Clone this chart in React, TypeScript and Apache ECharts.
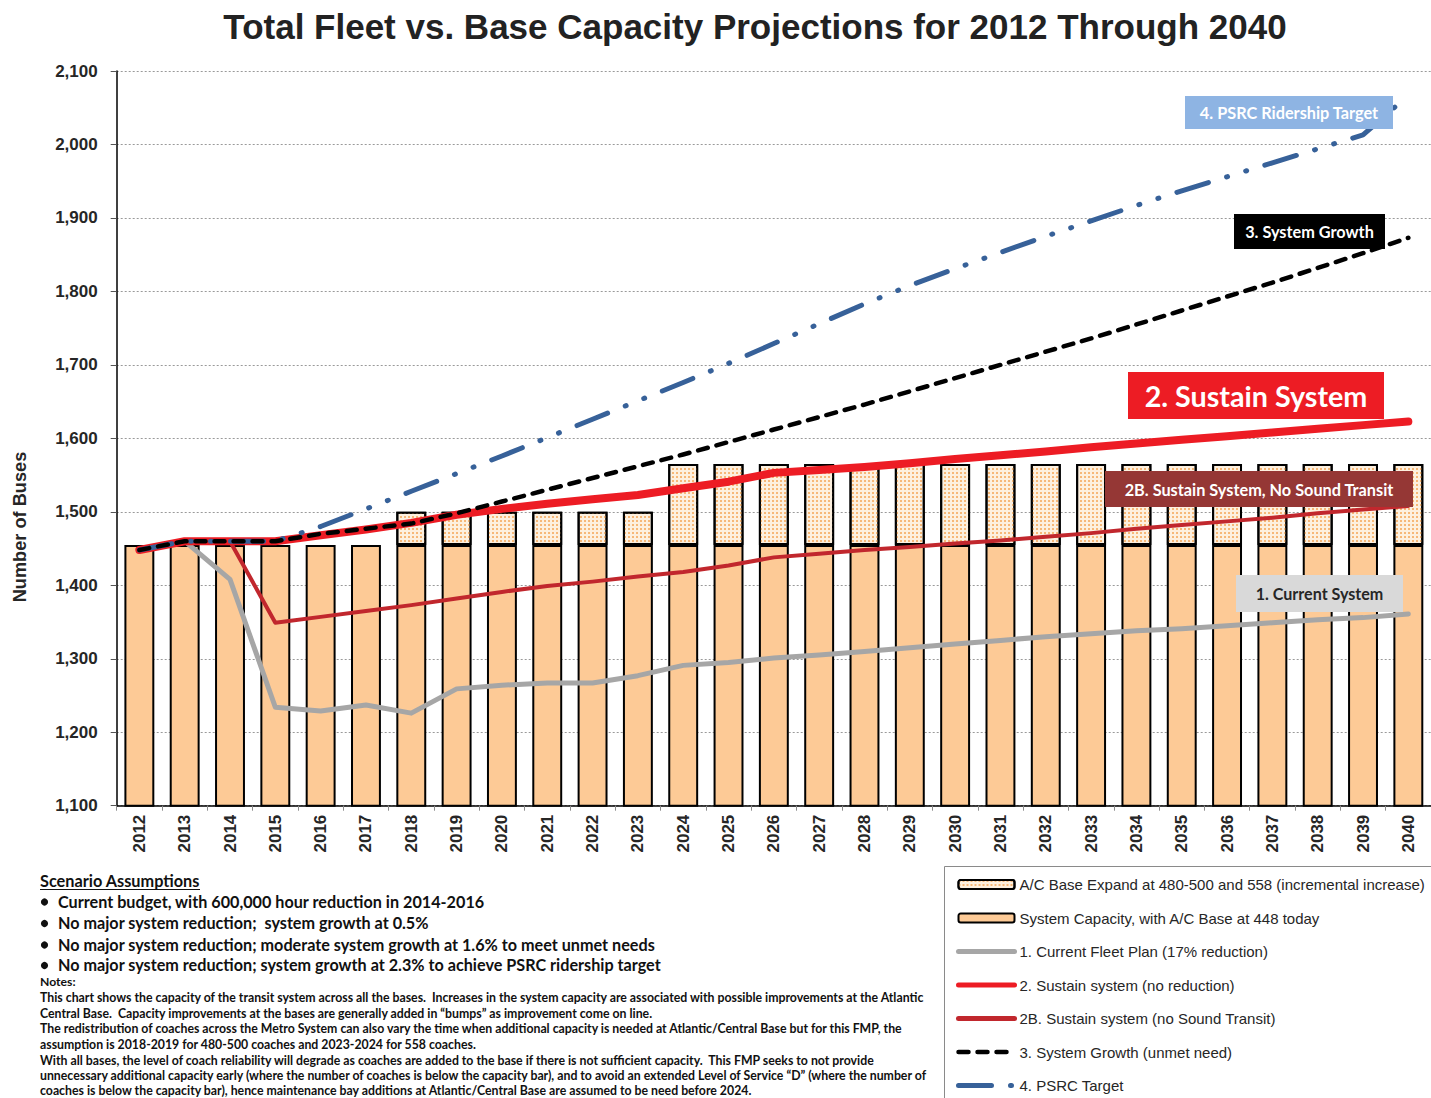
import React, { useEffect, useRef } from 'react';
import * as echarts from 'echarts';

const years = ['2012','2013','2014','2015','2016','2017','2018','2019','2020','2021','2022','2023','2024','2025','2026','2027','2028','2029','2030','2031','2032','2033','2034','2035','2036','2037','2038','2039','2040'];
const baseCapacity = [1455,1455,1455,1455,1455,1455,1455,1455,1455,1455,1455,1455,1455,1455,1455,1455,1455,1455,1455,1455,1455,1455,1455,1455,1455,1455,1455,1455,1455];
const expansion = [null,null,null,null,null,null,45,45,45,45,45,45,110,110,110,110,110,110,110,110,110,110,110,110,110,110,110,110,110];
const currentFleet = [1448,1460,1408,1234,1229,1237,1226,1259,1264,1267,1267,1277,1291,1295,1301,1305,1310,1315,1320,1325,1330,1334,1338,1341,1345,1349,1353,1356,1361];
const sustain = [1448,1460,1460,1460,1468,1476,1485,1496,1504,1511,1517,1523,1532,1541,1553,1557,1561,1566,1572,1577,1582,1588,1593,1598,1603,1608,1613,1618,1623];
const sustainNoST = [1448,1460,1460,1349,1357,1365,1373,1382,1391,1399,1405,1412,1418,1427,1438,1443,1448,1452,1457,1461,1466,1471,1477,1482,1487,1492,1498,1503,1508];
const systemGrowth = [1448,1460,1460,1460,1470,1477,1484,1498,1514,1530,1546,1562,1578,1595,1612,1629,1646,1664,1682,1700,1718,1736,1755,1774,1793,1812,1832,1852,1873];
const psrcTarget = [1448,1460,1460,1460,1480,1504,1528,1552,1576,1601,1626,1651,1676,1702,1729,1756,1783,1808,1831,1853,1875,1896,1917,1937,1956,1975,1994,2013,2067];

const seriesNames = [
  'A/C Base Expand at 480-500 and 558 (incremental increase)',
  'System Capacity, with A/C Base at 448 today',
  '1. Current Fleet Plan (17% reduction)',
  '2. Sustain system (no reduction)',
  '2B. Sustain system (no Sound Transit)',
  '3. System Growth (unmet need)',
  '4. PSRC Target',
];

const titleText = 'Total Fleet vs. Base Capacity Projections for 2012 Through 2040';
const yAxisName = 'Number of Buses';
const scenarioHeading = 'Scenario Assumptions';
const bulletLines = [
  'Current budget, with 600,000 hour reduction in 2014-2016',
  'No major system reduction;  system growth at 0.5%',
  'No major system reduction; moderate system growth at 1.6% to meet unmet needs',
  'No major system reduction; system growth at 2.3% to achieve PSRC ridership target',
];
const noteLines = [
  'This chart shows the capacity of the transit system across all the bases.  Increases in the system capacity are associated with possible improvements at the Atlantic',
  'Central Base.  Capacity improvements at the bases are generally added in \u201cbumps\u201d as improvement come on line.',
  'The redistribution of coaches across the Metro System can also vary the time when additional capacity is needed at Atlantic/Central Base but for this FMP, the',
  'assumption is 2018-2019 for 480-500 coaches and 2023-2024 for 558 coaches.',
  'With all bases, the level of coach reliability will degrade as coaches are added to the base if there is not sufficient capacity.  This FMP seeks to not provide',
  'unnecessary additional capacity early (where the number of coaches is below the capacity bar), and to avoid an extended Level of Service \u201cD\u201d (where the number of',
  'coaches is below the capacity bar), hence maintenance bay additions at Atlantic/Central Base are assumed to be need before 2024.',
];
const callouts = [
  { text: '4. PSRC Ridership Target', x: 1185, y: 96, w: 208, h: 33, fill: '#8EB4E3', color: '#ffffff', size: 16.3 },
  { text: '3. System Growth', x: 1234, y: 214, w: 151, h: 35, fill: '#000000', color: '#ffffff', size: 16.3 },
  { text: '2. Sustain System', x: 1128, y: 372, w: 256, h: 47, fill: '#ED1C24', color: '#ffffff', size: 28.7 },
  { text: '2B. Sustain System, No Sound Transit', x: 1105, y: 471, w: 308, h: 36, fill: '#953735', color: '#ffffff', size: 16.3 },
  { text: '1. Current System', x: 1236, y: 575, w: 167, h: 37, fill: '#D9D9D9', color: '#262626', size: 16.1 },
];

const CAL = 'Lato, "Open Sans", sans-serif';
const ARIAL = '"Liberation Sans", Arial, sans-serif';

export default function App() {
  const ref = useRef<HTMLDivElement>(null);
  useEffect(() => {
    document.body.style.margin = '0';
    const chart = echarts.init(ref.current!, null, { renderer: 'svg' });

    const txt = (text: string, x: number, y: number, font: string, fill: string, align = 'left', extra: any = {}) => ({
      type: 'text', x, y, ...extra,
      style: { text, font, fill, align, verticalAlign: 'middle', textAlign: align, textVerticalAlign: 'middle' },
    });

    const graphics: any[] = [];
    graphics.push(txt(titleText, 755, 26, `bold 35px ${ARIAL}`, '#222222', 'center', { z: 10 }));
    graphics.push(txt(yAxisName, 20, 527, `bold 18.2px ${ARIAL}`, '#262626', 'center', { z: 10, rotation: Math.PI / 2 }));
    callouts.forEach((c) => {
      graphics.push({ type: 'rect', z: 20, shape: { x: c.x, y: c.y, width: c.w, height: c.h }, style: { fill: c.fill } });
      graphics.push(txt(c.text, c.x + c.w / 2, c.y + c.h / 2, `bold ${c.size}px ${CAL}`, c.color, 'center', { z: 21 }));
    });
    graphics.push(txt(scenarioHeading, 40, 880, `bold 16.3px ${CAL}`, '#111111'));
    graphics.push({ type: 'line', shape: { x1: 40, y1: 889.5, x2: 200, y2: 889.5 }, style: { stroke: '#111111', lineWidth: 1.2 } });
    const bulletY = [901, 922.5, 944, 964.5];
    bulletLines.forEach((t, i) => {
      graphics.push({ type: 'circle', shape: { cx: 44.5, cy: bulletY[i] + 1, r: 3.6 }, style: { fill: '#111111' } });
      graphics.push(txt(t, 58, bulletY[i], `bold 16.2px ${CAL}`, '#111111'));
    });
    graphics.push(txt('Notes:', 40, 981.5, `bold 12.2px ${CAL}`, '#111111'));
    const noteY = [997.5, 1013, 1028.5, 1044.5, 1060, 1075.5, 1090.5];
    noteLines.forEach((t, i) => {
      graphics.push(txt(t, 40, noteY[i], `bold 12.3px ${CAL}`, '#111111'));
    });
    // legend frame
    graphics.push({ type: 'rect', z: 0, shape: { x: 944.5, y: 866.5, width: 520, height: 260 }, style: { fill: '#ffffff', stroke: '#8a8a8a', lineWidth: 1 } });

    const lineBase = (name: string, data: number[], color: string, width: number, type: any, z: number) => ({
      name, type: 'line', data, symbol: 'none', showSymbol: false, z,
      lineStyle: { color, width, type, cap: 'round', join: 'round' },
      itemStyle: { color },
      emphasis: { disabled: true },
    });

    const hiddenSymbol = { opacity: 0 };

    const option: any = {
      animation: false,
      backgroundColor: '#ffffff',
      grid: { left: 116.7, top: 71, bottom: 292.3, right: -8, containLabel: false },
      legend: {
        orient: 'vertical', left: 944, top: 866, z: 5,
        padding: [11, 0, 0, 12], itemGap: 18.5, itemWidth: 56, itemHeight: 9,
        selectedMode: false,
        textStyle: { fontFamily: ARIAL, fontSize: 15, color: '#262626' },
        data: [
          { name: seriesNames[0] },
          { name: seriesNames[1] },
          { name: seriesNames[2], lineStyle: { width: 5 }, itemStyle: hiddenSymbol },
          { name: seriesNames[3], lineStyle: { width: 5 }, itemStyle: hiddenSymbol },
          { name: seriesNames[4], lineStyle: { width: 5 }, itemStyle: hiddenSymbol },
          { name: seriesNames[5], lineStyle: { width: 4.5 }, itemStyle: hiddenSymbol },
          { name: seriesNames[6], lineStyle: { width: 5 }, itemStyle: hiddenSymbol },
        ],
      },
      xAxis: {
        type: 'category', data: years,
        axisLine: { lineStyle: { color: '#000000', width: 1.5 } },
        axisTick: { show: true, length: 5, lineStyle: { color: '#8c8c8c' } },
        axisLabel: { rotate: 90, margin: 9, fontFamily: ARIAL, fontWeight: 'bold', fontSize: 17, color: '#262626', interval: 0 },
      },
      yAxis: {
        type: 'value', min: 1100, max: 2100, interval: 100,
        axisLine: { show: true, lineStyle: { color: '#000000', width: 1.5 } },
        axisTick: { show: true, length: 6, lineStyle: { color: '#555555' } },
        axisLabel: { margin: 19, fontFamily: ARIAL, fontWeight: 'bold', fontSize: 17, color: '#262626', formatter: (v: number) => v.toLocaleString('en-US') },
        splitLine: { show: true, lineStyle: { color: '#9a9a9a', type: [2, 2], width: 1 } },
      },
      series: [
        {
          name: seriesNames[1], type: 'bar', stack: 'cap', data: baseCapacity, barCategoryGap: '34%',
          itemStyle: { color: '#FDCA96', borderColor: '#000000', borderWidth: 2 },
          emphasis: { disabled: true },
        },
        {
          name: seriesNames[0], type: 'bar', stack: 'cap', data: expansion,
          itemStyle: {
            color: '#FDF0DF', borderColor: '#000000', borderWidth: 2,
            decal: { symbol: 'rect', symbolSize: 1, color: '#F6B878', backgroundColor: '#FEF5EA', dashArrayX: [1.5, 1.8], dashArrayY: [1.5, 1.8] },
          },
          emphasis: { disabled: true },
        },
        lineBase(seriesNames[2], currentFleet, '#A6A6A6', 5, 'solid', 3),
        lineBase(seriesNames[4], sustainNoST, '#C1272D', 4, 'solid', 4),
        lineBase(seriesNames[3], sustain, '#ED1C24', 8, 'solid', 5),
        lineBase(seriesNames[6], psrcTarget, '#376199', 5, [33, 19, 1, 19, 1, 19], 6),
        lineBase(seriesNames[5], systemGrowth, '#000000', 4.5, [10, 9], 7),
      ],
      graphic: graphics,
    };
    chart.setOption(option);
    return () => chart.dispose();
  }, []);
  return <div ref={ref} style={{ position: 'absolute', left: 0, top: 0, width: 1431, height: 1098, overflow: 'hidden' }} />;
}
